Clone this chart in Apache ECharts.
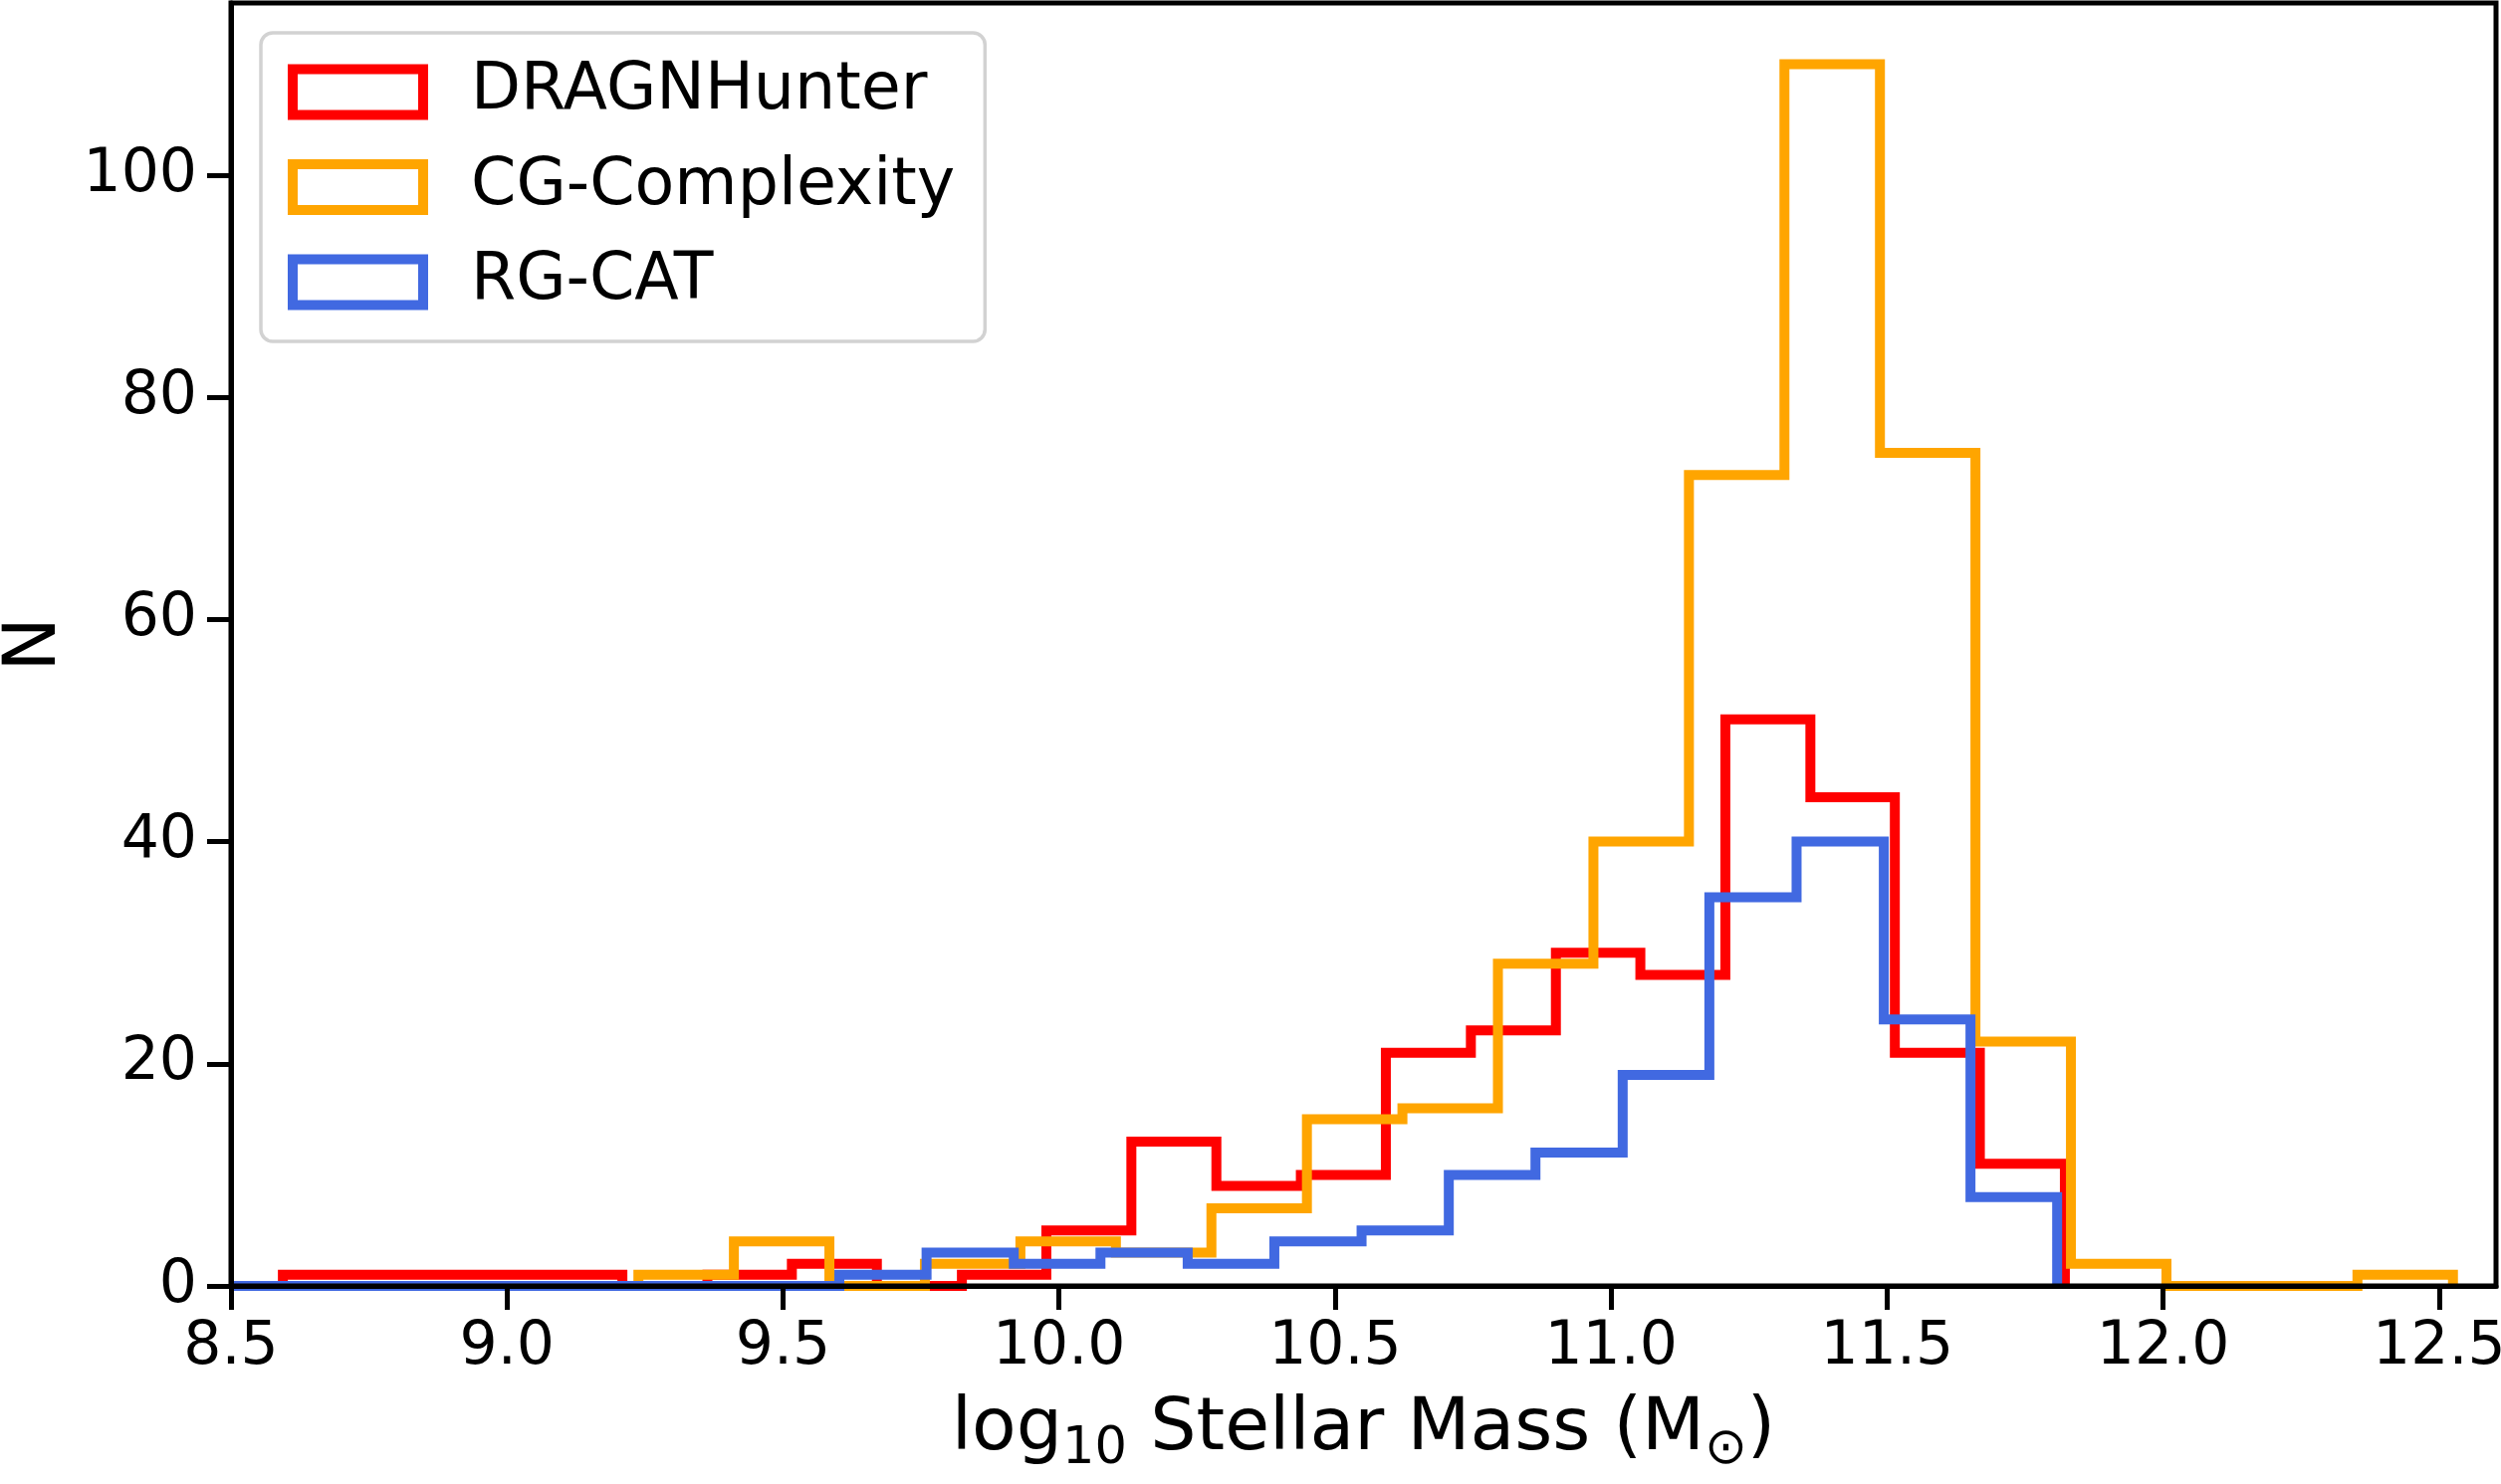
<!DOCTYPE html>
<html>
<head>
<meta charset="utf-8">
<title>Stellar mass histogram</title>
<script src="https://cdn.jsdelivr.net/npm/echarts@6.0.0/dist/echarts.min.js"></script>
<style>
  html, body { margin: 0; padding: 0; background: #fff; }
  #main { width: 2512px; height: 1491px; }
</style>
</head>
<body>
<div id="main"></div>
<script>
// bin edges and counts
var redEdges = [8.594, 8.748, 8.901, 9.055, 9.209, 9.363, 9.516, 9.670, 9.824, 9.977, 10.131,
  10.285, 10.438, 10.592, 10.746, 10.900, 11.053, 11.207, 11.361, 11.514, 11.668, 11.822];
var redCounts = [1, 1, 1, 1, 0, 1, 2, 0, 1, 5, 13, 9, 10, 21, 23, 30, 28, 51, 44, 21, 11];

var orangeEdges = [9.238, 9.411, 9.584, 9.757, 9.930, 10.103, 10.276, 10.449, 10.622, 10.795,
  10.968, 11.141, 11.314, 11.487, 11.660, 11.833, 12.006, 12.179, 12.352, 12.525];
var orangeCounts = [1, 4, 0, 2, 4, 3, 7, 15, 16, 29, 40, 73, 110, 75, 22, 2, 0, 0, 1];

var blueEdges = [8.500, 8.657, 8.815, 8.972, 9.130, 9.287, 9.445, 9.602, 9.760, 9.918, 10.075,
  10.233, 10.390, 10.548, 10.706, 10.863, 11.021, 11.178, 11.336, 11.494, 11.651, 11.808];
var blueCounts = [0, 0, 0, 0, 0, 0, 0, 1, 3, 2, 3, 2, 4, 5, 10, 12, 19, 35, 40, 24, 8];

var xTicks = [8.5, 9.0, 9.5, 10.0, 10.5, 11.0, 11.5, 12.0, 12.5];
var yTicks = [0, 20, 40, 60, 80, 100];

var names = ['DRAGNHunter', 'CG-Complexity', 'RG-CAT'];
var colors = ['#ff0000', '#ffa500', '#4169e1'];

var font = 'DejaVu Sans';

// turn edges + counts into the outline of a step histogram
function stepData(edges, counts) {
  var pts = [[edges[0], 0]];
  for (var i = 0; i < counts.length; i++) {
    pts.push([edges[i], counts[i]]);
  }
  pts.push([edges[edges.length - 1], 0]);
  return pts;
}

function histSeries(name, color, edges, counts) {
  return {
    name: name,
    type: 'line',
    step: 'end',
    symbol: 'none',
    showSymbol: false,
    clip: true,
    lineStyle: { color: color, width: 10, join: 'miter', cap: 'butt' },
    itemStyle: { color: color },
    data: stepData(edges, counts)
  };
}

var chart = echarts.init(document.getElementById('main'));
var option = {
  animation: false,
  backgroundColor: '#fff',
  grid: {
    left: 232,
    right: 5,
    top: 3,
    bottom: 199,
    outerBoundsMode: 'none',
    containLabel: false,
    show: true,
    borderColor: '#000',
    borderWidth: 5,
    z: 10
  },
  legend: {
    orient: 'vertical',
    left: 262,
    top: 33,
    padding: [27, 30, 27, 27],
    itemWidth: 131,
    itemHeight: 46,
    itemGap: 30.5,
    backgroundColor: '#fff',
    borderColor: '#d2d2d2',
    borderWidth: 3.5,
    borderRadius: 12,
    textStyle: {
      fontFamily: font,
      fontSize: 65,
      color: '#000',
      padding: [0, 0, 0, 43]
    },
    data: names.map(function (n, i) {
      return {
        name: n,
        icon: 'rect',
        itemStyle: { color: '#fff', borderColor: colors[i], borderWidth: 10 }
      };
    })
  },
  xAxis: {
    type: 'value',
    min: 8.5,
    max: 12.603,
    z: 10,
    name: '{m|log}{s|10}{m| Stellar Mass (M}{s|⊙}{m|)}',
    nameLocation: 'middle',
    nameGap: 100,
    nameTextStyle: {
      fontFamily: font,
      color: '#000',
      rich: {
        m: { fontFamily: font, fontSize: 73, lineHeight: 90, color: '#000' },
        s: { fontFamily: font, fontSize: 51, lineHeight: 50, color: '#000', verticalAlign: 'bottom' }
      }
    },
    axisLine: { show: true, lineStyle: { color: '#000', width: 5 } },
    axisTick: { show: true, length: 24, lineStyle: { color: '#000', width: 5 }, customValues: xTicks },
    axisLabel: {
      customValues: xTicks,
      margin: 32,
      fontFamily: font,
      fontSize: 60,
      color: '#000',
      formatter: function (v) { return v.toFixed(1); }
    },
    splitLine: { show: false }
  },
  yAxis: {
    type: 'value',
    min: 0,
    max: 115.5,
    z: 10,
    name: 'N',
    nameLocation: 'middle',
    nameGap: 154,
    nameTextStyle: { fontFamily: font, fontSize: 73, color: '#000' },
    axisLine: { show: true, lineStyle: { color: '#000', width: 5 } },
    axisTick: { show: true, length: 24, lineStyle: { color: '#000', width: 5 }, customValues: yTicks },
    axisLabel: {
      customValues: yTicks,
      margin: 34,
      fontFamily: font,
      fontSize: 60,
      color: '#000'
    },
    splitLine: { show: false }
  },
  series: [
    histSeries(names[0], colors[0], redEdges, redCounts),
    histSeries(names[1], colors[1], orangeEdges, orangeCounts),
    histSeries(names[2], colors[2], blueEdges, blueCounts)
  ]
};
chart.setOption(option);
</script>
</body>
</html>
